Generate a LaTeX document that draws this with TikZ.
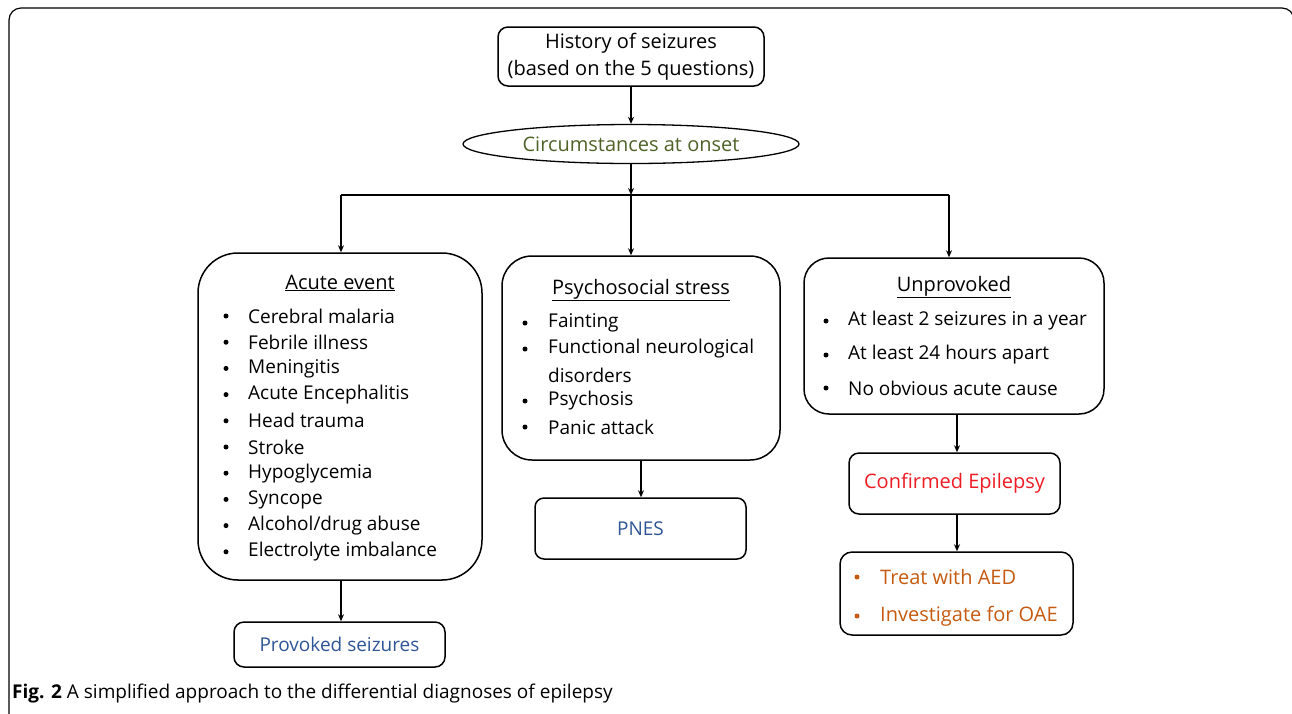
\documentclass[tikz,border=0pt]{standalone}
\usepackage{fontspec}
\setmainfont{Open Sans}
\usetikzlibrary{arrows.meta,shapes.geometric}
\definecolor{cgreen}{RGB}{79,98,40}
\definecolor{cblue}{RGB}{47,85,151}
\definecolor{cred}{RGB}{237,28,36}
\definecolor{corange}{RGB}{197,90,17}
\tikzset{
  box/.style={draw, line width=1.5pt, rounded corners=#1, inner sep=0pt},
  txt/.style={anchor=west, inner sep=0pt, font=\fontsize{19}{23}\selectfont},
  ctxt/.style={inner sep=0pt, font=\fontsize{20}{24}\selectfont},
  bul/.style={circle, fill=black, inner sep=0pt, minimum size=5pt},
  arr/.style={line width=1.4pt, -{Stealth[length=7pt,width=6pt]}},
  con/.style={line width=1.4pt},
}
\begin{document}
\begin{tikzpicture}[x=1pt,y=-1pt]
\useasboundingbox (0,0) rectangle (1292,713);
\begin{scope}
\clip (0,0) rectangle (1292,713);
\draw[line width=1.2pt, rounded corners=12pt] (9,8) rectangle (1294,740);
\end{scope}

% top
\node[box=10pt, minimum width=266pt, minimum height=59pt, align=center, font=\fontsize{20}{27}\selectfont] (hist) at (631,56.5) {History of seizures\\(based on the 5 questions)};
\node[draw, ellipse, line width=1.3pt, minimum width=336pt, minimum height=39pt, inner sep=0pt, font=\fontsize{20}{24}\selectfont, text=cgreen] (circ) at (631,144) {Circumstances at onset};

% main boxes
\node[box=40pt, minimum width=284pt, minimum height=327pt] (acute) at (340,416.5) {};
\node[box=30pt, minimum width=278pt, minimum height=204pt] (psych) at (641,358) {};
\node[box=25pt, minimum width=300pt, minimum height=156pt] (unprov) at (954,336) {};

% lower boxes
\node[box=10pt, minimum width=211pt, minimum height=45pt, font=\fontsize{19}{23}\selectfont, text=cblue] (prov) at (339.5,644.5) {Provoked seizures};
\node[box=9pt, minimum width=211pt, minimum height=61pt, font=\fontsize{19}{23}\selectfont, text=cblue] (pnes) at (640.5,528.5) {PNES};
\node[box=10pt, minimum width=211pt, minimum height=61pt, font=\fontsize{20}{24}\selectfont, text=cred] (conf) at (954.5,483.5) {Confirmed Epilepsy};
\node[box=12pt, minimum width=233pt, minimum height=83pt] (treat) at (956.5,593.5) {};

% acute text
\node[ctxt] (ah) at (340,283) {\underline{Acute event}};
\foreach \t [count=\i from 0] in {Cerebral malaria,Febrile illness,Meningitis,Acute Encephalitis,Head trauma,Stroke,Hypoglycemia,Syncope,Alcohol/drug abuse,Electrolyte imbalance}{
  \node[bul] (ab\i) at (226,316+26.2*\i) {};
  \node[txt] (at\i) at (248,316+26.2*\i) {\t};
}

% psych text
\node[ctxt] (ph) at (641,290) {\underline{Psychosocial stress}};
\node[bul] (pb0) at (525,323) {};
\node[txt] (pt0) at (548,323) {Fainting};
\node[bul] (pb1) at (525,349) {};
\node[txt] (pt1) at (548,349) {Functional neurological};
\node[txt] (pt1b) at (548,375) {disorders};
\node[bul] (pb2) at (525,401) {};
\node[txt] (pt2) at (548,401) {Psychosis};
\node[bul] (pb3) at (525,427) {};
\node[txt] (pt3) at (548,427) {Panic attack};

% unprovoked text
\node[ctxt] (uh) at (954,287) {\underline{Unprovoked}};
\node[bul] (ub0) at (826,321) {};
\node[txt] (ut0) at (848,321) {At least 2 seizures in a year};
\node[bul] (ub1) at (826,355) {};
\node[txt] (ut1) at (848,355) {At least 24 hours apart};
\node[bul] (ub2) at (826,388) {};
\node[txt] (ut2) at (848,388) {No obvious acute cause};

% treat text
\node[bul, fill=corange] (tb0) at (857,577) {};
\node[txt, text=corange, font=\fontsize{20}{24}\selectfont] (tt0) at (880,577) {Treat with AED};
\node[bul, fill=corange] (tb1) at (857,616) {};
\node[txt, text=corange, font=\fontsize{20}{24}\selectfont] (tt1) at (880,616) {Investigate for OAE};

% connectors
\coordinate (jl) at (341,195);
\coordinate (jm) at (631,195);
\coordinate (jr) at (949,195);
\coordinate (ju) at (957,414);
\draw[arr] (hist.south) -- (circ.north);
\draw[arr] (circ.south) -- (jm);
\draw[con] (jl) -- (jr);
\draw[arr] (jl) -- (jl |- acute.north);
\draw[arr] (jm) -- (jm |- psych.north);
\draw[arr] (jr) -- (jr |- unprov.north);
\draw[arr] (acute.south -| jl) -- (jl |- prov.north);
\draw[arr] (psych.south) -- (psych.south |- pnes.north);
\draw[arr] (ju) -- (ju |- conf.north);
\draw[arr] (ju |- conf.south) -- (ju |- treat.north);

% caption
\node[anchor=west, inner sep=0pt, font=\fontsize{19}{23}\selectfont] (cap) at (12,693) {\textbf{Fig. 2} A simplified approach to the differential diagnoses of epilepsy};
\end{tikzpicture}
\end{document}
